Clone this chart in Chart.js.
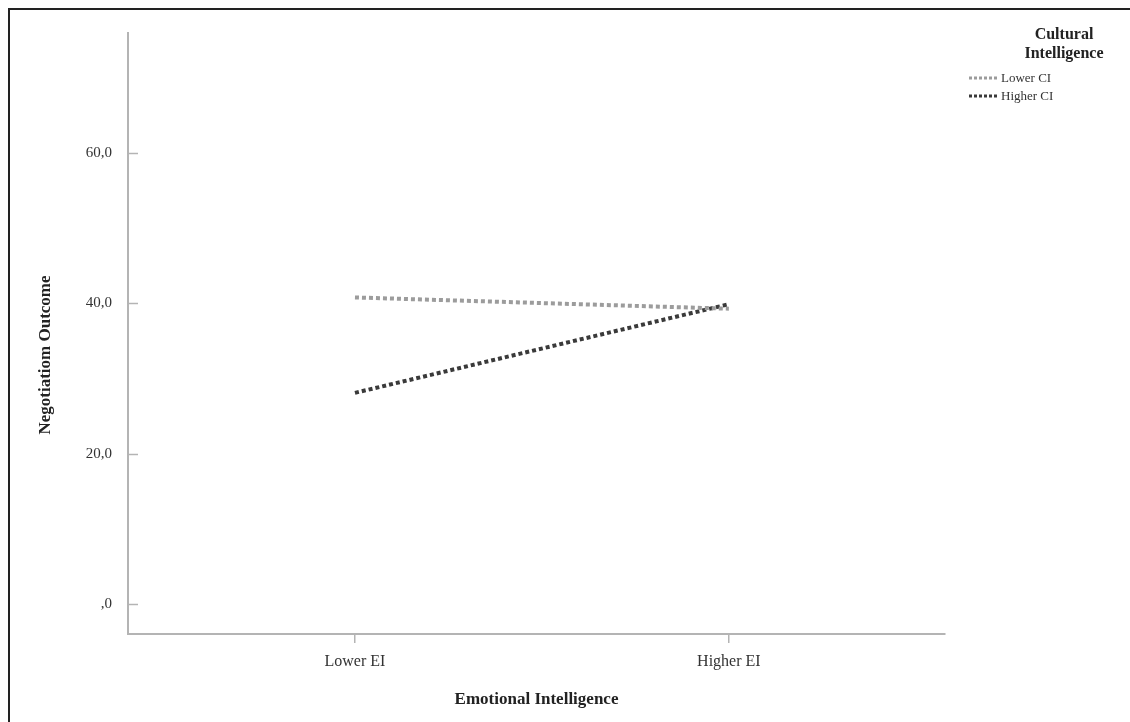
<!DOCTYPE html>
<html>
<head>
<meta charset="utf-8">
<script src="https://cdn.jsdelivr.net/npm/chart.js@4/dist/chart.umd.min.js"></script>
<style>
  html, body { margin: 0; padding: 0; background: #fff; }
  #wrap { position: relative; width: 1130px; height: 722px; overflow: hidden; }
  #frame { position: absolute; left: 8px; top: 8px; right: -4px; bottom: -4px;
           border-left: 2px solid #222; border-top: 2px solid #222; pointer-events: none; }
  canvas { position: absolute; left: 0; top: 0; }
</style>
</head>
<body>
<div id="wrap">
  <canvas id="chart" width="1130" height="722"></canvas>
  <div id="frame"></div>
</div>
<script>
// categories on the x axis (positions 0 and 1)
const categories = ['Lower EI', 'Higher EI'];
const seriesNames = ['Lower CI', 'Higher CI'];
const lowerCI = [40.8, 39.3];
const higherCI = [28.1, 39.9];
const yTicks = [0, 20, 40, 60];

const serif = '"Liberation Serif", "DejaVu Serif", serif';

// y labels like "60,0" and ",0"
function fmtTick(v) {
  let s = v.toFixed(1).replace('.', ',');
  if (s.startsWith('0,')) s = s.slice(1);
  return s;
}

// small tick marks inside the plot on the y axis + rotated y title + legend
const extras = {
  id: 'extras',
  afterDraw(chart) {
    const ctx = chart.ctx;
    const y = chart.scales.y;
    const area = chart.chartArea;
    ctx.save();
    ctx.strokeStyle = '#b4b4b4';
    ctx.lineWidth = 1.5;
    yTicks.forEach(v => {
      const py = Math.round(y.getPixelForValue(v)) + 0.5;
      ctx.beginPath();
      ctx.moveTo(area.left, py);
      ctx.lineTo(area.left + 10, py);
      ctx.stroke();
    });

    // y axis title
    ctx.fillStyle = '#222';
    ctx.font = 'bold 17px ' + serif;
    ctx.textAlign = 'center';
    ctx.textBaseline = 'middle';
    ctx.translate(46, 355);
    ctx.rotate(-Math.PI / 2);
    ctx.fillText('Negotiatiom Outcome', 0, 0);
    ctx.restore();

    // legend
    ctx.save();
    ctx.fillStyle = '#222';
    ctx.font = 'bold 16px ' + serif;
    ctx.textAlign = 'center';
    ctx.textBaseline = 'middle';
    ctx.fillText('Cultural', 1064, 35);
    ctx.fillText('Intelligence', 1064, 54);
    ctx.font = '13px ' + serif;
    ctx.textAlign = 'left';
    chart.data.datasets.forEach((ds, i) => {
      const ly = 78 + i * 18;
      ctx.strokeStyle = ds.borderColor;
      ctx.lineWidth = 3;
      ctx.setLineDash([3, 2]);
      ctx.beginPath();
      ctx.moveTo(969, ly);
      ctx.lineTo(997, ly);
      ctx.stroke();
      ctx.setLineDash([]);
      ctx.fillStyle = '#333';
      ctx.fillText(ds.label, 1001, ly + 1);
    });
    ctx.restore();
  }
};

const ctx = document.getElementById('chart').getContext('2d');
const chart = new Chart(ctx, {
  type: 'line',
  data: {
    datasets: [
      {
        label: seriesNames[0],
        data: lowerCI.map((v, i) => ({ x: i, y: v })),
        borderColor: '#9c9c9c',
        borderWidth: 4,
        borderDash: [4, 3],
        pointRadius: 0,
        fill: false
      },
      {
        label: seriesNames[1],
        data: higherCI.map((v, i) => ({ x: i, y: v })),
        borderColor: '#3a3a3a',
        borderWidth: 4,
        borderDash: [4, 3],
        pointRadius: 0,
        fill: false
      }
    ]
  },
  options: {
    responsive: false,
    animation: false,
    layout: { padding: { left: 0, right: 185, top: 33, bottom: 0 } },
    plugins: { legend: { display: false }, tooltip: { enabled: false } },
    scales: {
      x: {
        type: 'linear',
        min: -0.607,
        max: 1.578,
        afterBuildTicks: s => { s.ticks = categories.map((c, i) => ({ value: i })); },
        afterFit: s => { s.height = 722 - 634; },
        grid: { drawOnChartArea: false, drawTicks: true, tickLength: 9, tickColor: '#b4b4b4', lineWidth: 1.5 },
        border: { color: '#b4b4b4', width: 2 },
        ticks: {
          callback: v => categories[v],
          color: '#333',
          padding: 9,
          maxRotation: 0,
          font: { family: serif, size: 16 }
        },
        title: {
          display: true,
          text: 'Emotional Intelligence',
          color: '#222',
          padding: { top: 0, bottom: 12 },
          font: { family: serif, size: 17, weight: 'bold' }
        }
      },
      y: {
        min: -4,
        max: 76,
        afterBuildTicks: s => { s.ticks = yTicks.map(v => ({ value: v })); },
        afterFit: s => { s.width = 128; },
        grid: { drawOnChartArea: false, drawTicks: false },
        border: { color: '#b4b4b4', width: 2 },
        ticks: {
          callback: v => fmtTick(v),
          color: '#333',
          padding: 16,
          font: { family: serif, size: 15 }
        }
      }
    }
  },
  plugins: [extras]
});
</script>
</body>
</html>
